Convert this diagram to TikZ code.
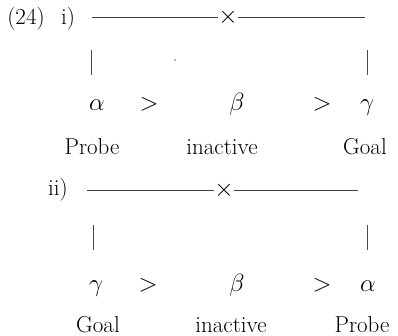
\documentclass[tikz,border=0pt]{standalone}
\begin{document}
\begin{tikzpicture}[x=1pt,y=-1pt,
  txt/.style={inner sep=0pt,anchor=base,font=\fontsize{23}{27}\selectfont,text=black},
  rule/.style={draw=black!75,line width=0.9pt},
  bar/.style={draw=black!70,line width=0.9pt}]
\useasboundingbox (0,0) rectangle (398,336);
% (i)
\node[txt] (n24) at (26,25) {(24)};
\node[txt] (ni) at (68,25) {i)};
\node[txt,anchor=center] (x1) at (228,17) {$\times$};
\coordinate (l1a) at (92,17);
\coordinate (l1b) at (365,17);
\draw[rule] (l1a) -- (x1.west);
\draw[rule] (x1.east) -- (l1b);
\coordinate (b1a) at (91,50); \coordinate (b1b) at (91,75);
\coordinate (b2a) at (367,50); \coordinate (b2b) at (367,75);
\draw[bar] (b1a) -- (b1b);
\draw[bar] (b2a) -- (b2b);
\fill[black!60] (175,60) circle (0.8);
\node[txt] (a1) at (97,111) {$\alpha$};
\node[txt] (g1a) at (149,111) {$>$};
\node[txt] (b1) at (237,111) {$\beta$};
\node[txt] (g1b) at (322,111) {$>$};
\node[txt] (c1) at (367,111) {$\gamma$};
\node[txt] (p1) at (92,155) {Probe};
\node[txt] (in1) at (222,155) {inactive};
\node[txt] (go1) at (365,155) {Goal};
% (ii)
\node[txt] (nii) at (58,196) {ii)};
\node[txt,anchor=center] (x2) at (224,190) {$\times$};
\coordinate (l2a) at (87,190);
\coordinate (l2b) at (358,190);
\draw[rule] (l2a) -- (x2.west);
\draw[rule] (x2.east) -- (l2b);
\coordinate (b3a) at (93,225); \coordinate (b3b) at (93,250);
\coordinate (b4a) at (367,225); \coordinate (b4b) at (367,250);
\draw[bar] (b3a) -- (b3b);
\draw[bar] (b4a) -- (b4b);
\node[txt] (c2) at (96,291) {$\gamma$};
\node[txt] (g2a) at (148,291) {$>$};
\node[txt] (b2) at (237,291) {$\beta$};
\node[txt] (g2b) at (322,291) {$>$};
\node[txt] (a2) at (368,291) {$\alpha$};
\node[txt] (go2) at (98,332) {Goal};
\node[txt] (in2) at (231,332) {inactive};
\node[txt] (p2) at (362,332) {Probe};
\end{tikzpicture}
\end{document}
